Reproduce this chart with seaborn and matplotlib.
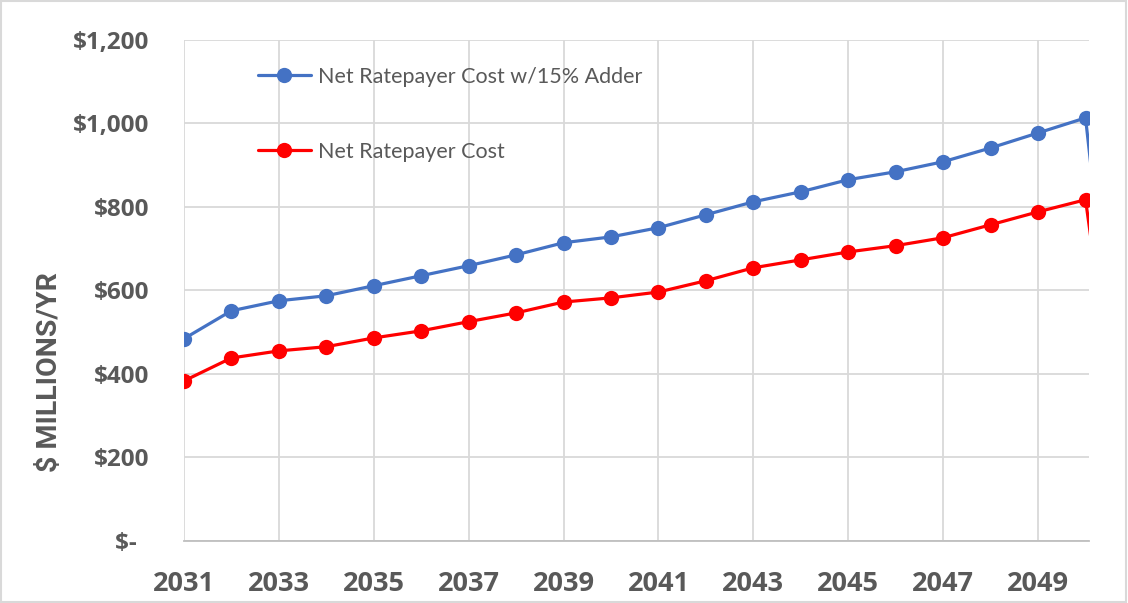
import pandas as pd
import matplotlib.pyplot as plt
import matplotlib.patches as mpatches
from matplotlib.ticker import FuncFormatter
import seaborn as sns


# values ($ millions / yr); Excel drops to 0 after 2050
years = list(range(2031, 2052))

adder_cost = [484, 551, 575, 587, 611, 635, 659, 685, 714, 728,
              750, 781, 812, 836, 865, 884, 908, 941, 977, 1013, 0]

net_cost = [383, 438, 455, 465, 486, 503, 525, 546, 572, 582,
            596, 623, 654, 673, 692, 707, 726, 757, 788, 817, 0]

series_names = ["Net Ratepayer Cost w/15% Adder", "Net Ratepayer Cost"]
series_colors = ["#4472C4", "#FF0000"]

x_ticks = list(range(2031, 2050, 2))
y_ticks = [0, 200, 400, 600, 800, 1000, 1200]


df = pd.DataFrame({
    "Year": years * 2,
    "Cost": adder_cost + net_cost,
    "Series": [series_names[0]] * len(years) + [series_names[1]] * len(years),
})

sns.set_style("white")
plt.rcParams["font.family"] = ["Lato", "DejaVu Sans"]

fig = plt.figure(figsize=(11.28, 6.03), dpi=100)
ax = fig.add_axes([0.163, 0.103, 0.8023, 0.831])

sns.lineplot(
    data=df,
    x="Year",
    y="Cost",
    hue="Series",
    hue_order=series_names,
    palette=series_colors,
    marker="o",
    markersize=11,
    markeredgewidth=0,
    linewidth=2.3,
    ax=ax,
)

ax.set_xlim(2031, 2050.07)
ax.set_ylim(0, 1200)
ax.set_xticks(x_ticks)
ax.set_yticks(y_ticks)
ax.xaxis.set_major_formatter(FuncFormatter(lambda v, p: str(int(v))))
ax.yaxis.set_major_formatter(
    FuncFormatter(lambda v, p: "$-  " if v == 0 else "${:,.0f}".format(v))
)

ax.grid(True, color="#D9D9D9", linewidth=1.3)
ax.set_axisbelow(True)
for side in ["top", "right", "left"]:
    ax.spines[side].set_visible(False)
ax.spines["bottom"].set_color("#BFBFBF")
ax.spines["bottom"].set_linewidth(1.3)

ax.tick_params(axis="both", length=0, labelcolor="#595959")
ax.tick_params(axis="y", pad=25, labelsize=17.5)
ax.tick_params(axis="x", pad=22, labelsize=19.5)
for lbl in ax.get_xticklabels() + ax.get_yticklabels():
    lbl.set_fontweight("bold")
    lbl.set_family(["Open Sans", "DejaVu Sans"])

ax.set_xlabel("")
ax.set_ylabel("$ MILLIONS/YR", fontsize=20.5, fontweight="bold", color="#595959",
              family=["Roboto", "Open Sans", "DejaVu Sans"])
ax.yaxis.set_label_coords(-0.133, 0.337)

leg = ax.legend(
    loc="upper left",
    bbox_to_anchor=(0.06, 0.985),
    frameon=False,
    fontsize=15.5,
    labelspacing=2.55,
    handlelength=2.5,
    handletextpad=0.3,
)
for t in leg.get_texts():
    t.set_color("#595959")

fig.patches.append(mpatches.Rectangle(
    (0.001, 0.001), 0.997, 0.997, transform=fig.transFigure,
    fill=False, edgecolor="#D9D9D9", linewidth=1.5,
))

fig.savefig("out.png", dpi=100)
